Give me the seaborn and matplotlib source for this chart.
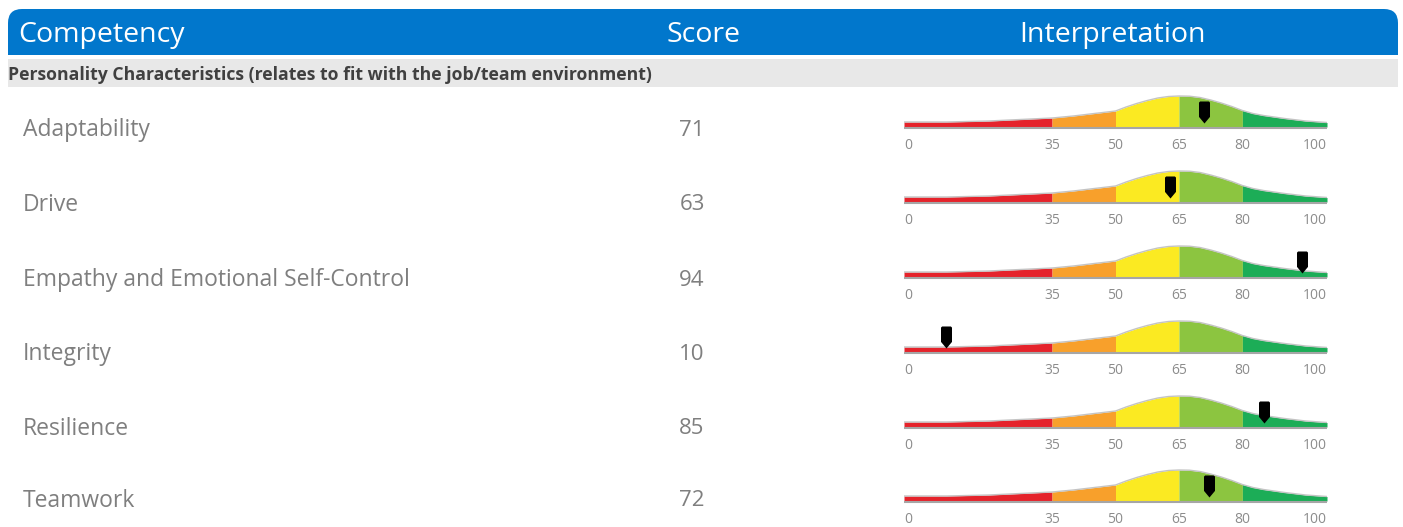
import numpy as np
import matplotlib.pyplot as plt
import seaborn as sns
from matplotlib.patches import FancyBboxPatch, Rectangle
from matplotlib.path import Path

competencies = ["Adaptability", "Drive", "Empathy and Emotional Self-Control",
                "Integrity", "Resilience", "Teamwork"]
scores = [71, 63, 94, 10, 85, 72]

header = ["Competency", "Score", "Interpretation"]
section = "Personality Characteristics (relates to fit with the job/team environment)"

# interpretation curve, height above the bar bottom (px)
curve_x = [0, 5, 10, 15, 20, 25, 30, 35, 40, 45, 50, 52.5, 55, 57.5, 60, 62.5, 65,
           67.5, 70, 72.5, 75, 77.5, 80, 82.5, 85, 90, 95, 100]
curve_h = [5, 5, 5, 5.5, 6, 7, 8, 9, 11, 13.5, 16, 20, 23.5, 26.5, 29, 30.5, 31,
           30.8, 29.5, 27, 24, 20.5, 16.5, 13.5, 11.5, 8.5, 6, 4.5]
band_edges = [0, 35, 50, 65, 80, 100]
band_colors = ["#e5232b", "#f8a02b", "#fbea22", "#8cc540", "#1cad57"]
tick_vals = [0, 35, 50, 65, 80, 100]
tick_labels = ["0", "35", "50", "65", "80", "100"]

sns.set_theme(style="white")
plt.rcParams['font.family'] = ['Open Sans', 'DejaVu Sans']

W, H = 1403, 527
blue = "#0177cc"
grey_txt = "#7f7f7f"

fig = plt.figure(figsize=(W / 100, H / 100), dpi=100)
bg = fig.add_axes([0, 0, 1, 1])
bg.set_xlim(0, W)
bg.set_ylim(H, 0)
bg.axis('off')

# header bar, rounded on top only
bg.add_patch(FancyBboxPatch((8, 9), 1390, 46, boxstyle="round,pad=0,rounding_size=14",
                            fc=blue, ec='none'))
bg.add_patch(Rectangle((8, 30), 1390, 25, fc=blue, ec='none'))
bg.text(18, 35, header[0], color='white', fontsize=20.5, va='center')
bg.text(703, 35, header[1], color='white', fontsize=20.5, va='center', ha='center')
bg.text(1113, 35, header[2], color='white', fontsize=20.5, va='center', ha='center')

bg.add_patch(Rectangle((8, 59), 1390, 28, fc='#e8e8e8', ec='none'))
bg.text(8, 75, section, color='#404040', fontsize=12.7, weight='bold', va='center')

row_y = [130, 205, 280, 354, 429, 501]
bases = [127, 202, 277, 352, 427, 501]

pointer = Path([(0, 0), (0.25, 0.3), (0.25, 0.95), (0.2, 1.0), (-0.2, 1.0),
                (-0.25, 0.95), (-0.25, 0.3), (0, 0)], closed=True)

cx = np.array(curve_x)
ch = np.array(curve_h)

for name, sc, y, b in zip(competencies, scores, row_y, bases):
    bg.text(23, y, name, color=grey_txt, fontsize=16.5, va='center')
    bg.text(692, y, str(sc), color=grey_txt, fontsize=16, va='center', ha='center')

    ax = fig.add_axes([904 / W, 1 - (b + 3) / H, 423 / W, 36 / H])
    ax.set_xlim(0, 100)
    ax.set_ylim(-3, 33)
    ax.patch.set_alpha(0)
    for lo, hi, col in zip(band_edges[:-1], band_edges[1:], band_colors):
        m = (cx >= lo) & (cx <= hi)
        ax.fill_between(cx[m], 0, ch[m], color=col, lw=0)
    sns.lineplot(x=curve_x, y=curve_h, color='#c4c4c4', lw=1, ax=ax)
    ax.axhline(-1, color='#a6a6a6', lw=1.5)
    ax.plot(sc, 4, marker=pointer, ms=31.7, color='black', mew=0, ls='none')

    ax.set_xticks(tick_vals, tick_labels)
    ax.set_yticks([])
    ax.tick_params(axis='x', length=0, pad=6, labelsize=10, labelcolor='#8c8c8c')
    tl = ax.get_xticklabels()
    tl[0].set_ha('left')
    tl[-1].set_ha('right')
    for s in ax.spines.values():
        s.set_visible(False)

fig.savefig("out.png", dpi=100)
